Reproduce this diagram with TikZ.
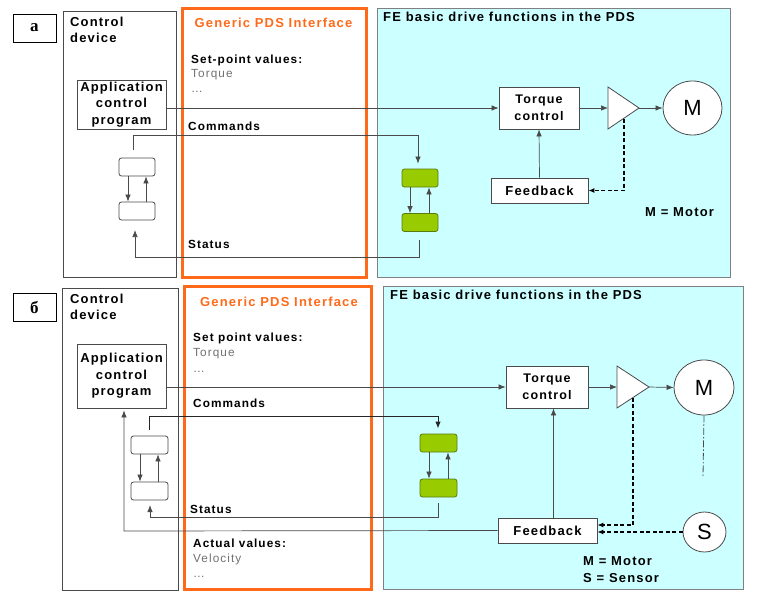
\documentclass[tikz,border=0pt]{standalone}
\usepackage{fontspec}
\setmainfont{Liberation Sans}[LetterSpace=9]
\newfontfamily\cyrserif{Liberation Serif}
\usetikzlibrary{arrows.meta,calc,shapes.geometric}
\definecolor{linec}{HTML}{4A4A4A}
\definecolor{pdsorange}{HTML}{FF6A1A}
\definecolor{fecyan}{HTML}{CCFFFF}
\definecolor{ggreen}{HTML}{99CC00}
\definecolor{gdark}{HTML}{5A7A10}
\definecolor{graytxt}{HTML}{707070}
\begin{document}
\begin{tikzpicture}[x=1pt,y=-1pt,
  lbl/.style={draw=black, line width=0.9pt, fill=white, minimum width=43pt, minimum height=28pt, inner sep=0pt, font=\cyrserif\bfseries\fontsize{17}{17}\selectfont},
  frame/.style={draw=linec, line width=0.8pt, inner sep=0pt},
  pds/.style={draw=pdsorange, line width=3pt, inner sep=0pt},
  fe/.style={draw=linec!70, line width=0.8pt, fill=fecyan, inner sep=0pt},
  blk/.style={draw=linec, line width=0.8pt, fill=white, inner sep=0pt, align=center, font=\bfseries\fontsize{13}{16.5}\selectfont},
  wbox/.style={draw=linec, line width=0.8pt, fill=white, rounded corners=2.5pt, minimum width=36pt, minimum height=18pt, inner sep=0pt},
  gbox/.style={draw=gdark, line width=0.8pt, fill=ggreen, rounded corners=2.5pt, minimum width=36pt, minimum height=18pt, inner sep=0pt},
  circ/.style={draw=linec, line width=0.8pt, fill=white, ellipse, inner sep=0pt, font=\fontsize{22}{22}\selectfont},
  hd/.style={anchor=base west, inner sep=0pt, font=\bfseries\fontsize{13}{15}\selectfont},
  sm/.style={anchor=base west, inner sep=0pt, font=\bfseries\fontsize{11.8}{14}\selectfont},
  gr/.style={anchor=base west, inner sep=0pt, text=graytxt, font=\fontsize{11.8}{14}\selectfont},
  ttl/.style={anchor=base, inner sep=0pt, text=pdsorange, font=\bfseries\fontsize{13}{15}\selectfont},
  arr/.style={draw=linec, line width=0.7pt, -{Latex[length=7pt,width=5.5pt]}},
  darr/.style={draw=black, line width=1.8pt, dash pattern=on 4pt off 2.5pt, -{Latex[length=6pt,width=5pt]}},
]
\useasboundingbox (0,0) rectangle (758,600);
% ================= panel a =================
\node[fe, minimum width=353pt, minimum height=269pt] (fea) at (553.5,142.5) {};
\node[frame, minimum width=113pt, minimum height=266pt] (cda) at (119.5,144) {};
\node[pds, minimum width=184pt, minimum height=269pt] (pdsa) at (274,142.5) {};
\node[lbl] (la) at (34.5,28) {а};

\node[hd] (cdta) at (70,26) {Control};
\node[hd] (cdta2) at (70,42) {device};
\node[ttl] (gpa) at (273.5,27) {Generic PDS Interface};
\node[sm] (spa) at (191,63) {Set-point values:};
\node[gr] (tqa) at (191,77) {Torque};
\node[gr] (dta) at (191,92) {\dots};
\node[sm] (cma) at (188,130) {Commands};
\node[sm] (sta) at (188,248) {Status};
\node[hd] (fta) at (383,21.5) {FE basic drive functions in the PDS};
\node[hd] (mma) at (645,216) {M = Motor};

\node[blk, minimum width=89pt, minimum height=49pt] (appa) at (121.5,104.5) {Application\\control\\program};
\node[blk, minimum width=80pt, minimum height=42pt, font=\bfseries\fontsize{12.5}{16.5}\selectfont] (tca) at (539,108) {Torque\\control};
\node[blk, minimum width=97pt, minimum height=25pt] (fba) at (539.5,190.5) {Feedback};
\node[circ, minimum width=59pt, minimum height=54pt] (Ma) at (692.5,108) {M};
\coordinate (triAin) at (608,108);
\coordinate (triAout) at (639,108);
\coordinate (triAbot) at (624,118.5);
\draw[linec, line width=0.8pt, fill=white] (608,87) -- (639,108) -- (608,129) -- cycle;

\node[wbox] (wa1) at (137,167) {};
\node[wbox] (wa2) at (137,211) {};
\node[gbox] (ga1) at (420,178) {};
\node[gbox] (ga2) at (420,222.5) {};

\draw[arr] (appa.east |- tca.west) -- (tca.west);
\draw[arr] (tca.east) -- (triAin);
\draw[arr] (triAout) -- (Ma.west);
\draw[arr] (fba.north) -- (tca.south);
\draw[darr] (triAbot) |- (fba.east);

\draw[arr] ([xshift=-9pt]wa1.south) -- ([xshift=-9pt]wa2.north);
\draw[arr] ([xshift=9pt]wa2.north) -- ([xshift=9pt]wa1.south);
\draw[arr] ([xshift=-10pt]ga1.south) -- ([xshift=-10pt]ga2.north);
\draw[arr] ([xshift=9pt]ga2.north) -- ([xshift=9pt]ga1.south);

\coordinate (cmA0) at (133,150);
\coordinate (cmA1) at (418,135);
\draw[arr, shorten >=5pt] (cmA0) |- (cmA1) -- (cmA1 |- ga1.north);
\coordinate (stA0) at (419,240);
\coordinate (stA1) at (135,257);
\coordinate (stA2) at (135,230);
\draw[arr] (stA0) |- (stA1) -- (stA2);

% ================= panel b =================
\node[fe, minimum width=360pt, minimum height=303pt] (feb) at (563,437.5) {};
\node[frame, minimum width=116pt, minimum height=302pt] (cdb) at (120,439) {};
\node[pds, minimum width=187pt, minimum height=303pt] (pdsb) at (277.5,437.5) {};
\node[lbl] (lb) at (34.5,307) {б};

\node[hd] (cdtb) at (70,303) {Control};
\node[hd] (cdtb2) at (70,319) {device};
\node[ttl] (gpb) at (279,306) {Generic PDS Interface};
\node[sm] (spb) at (193,341.5) {Set point values:};
\node[gr] (tqb) at (193,356) {Torque};
\node[gr] (dtb) at (193,372) {\dots};
\node[sm] (cmb) at (193,407) {Commands};
\node[sm] (stb) at (190,513) {Status};
\node[sm] (avb) at (193,547) {Actual values:};
\node[gr] (vlb) at (193,562) {Velocity};
\node[gr] (dvb) at (193,577) {\dots};
\node[hd] (ftb) at (390,299) {FE basic drive functions in the PDS};
\node[hd] (mmb) at (583,565) {M = Motor};
\node[hd] (ssb) at (583,582) {S = Sensor};

\node[blk, minimum width=89pt, minimum height=64pt] (appb) at (121.5,376) {Application\\control\\program};
\node[blk, minimum width=82pt, minimum height=42pt, font=\bfseries\fontsize{12.5}{16.5}\selectfont] (tcb) at (547,387) {Torque\\control};
\node[blk, minimum width=99pt, minimum height=25pt] (fbb) at (547.5,530.5) {Feedback};
\node[circ, minimum width=60pt, minimum height=55pt] (Mb) at (704,387.5) {M};
\node[circ, minimum width=43pt, minimum height=40pt] (Sb) at (704.5,532) {S};
\coordinate (triBin) at (617,387);
\coordinate (triBout) at (649,387);
\coordinate (triBbot) at (633,397.5);
\draw[linec, line width=0.8pt, fill=white] (617,366) -- (649,387) -- (617,408) -- cycle;

\node[wbox, minimum width=37pt] (wb1) at (149.5,445) {};
\node[wbox, minimum width=37pt] (wb2) at (149.5,491) {};
\node[gbox, minimum width=37pt] (gb1) at (438.5,443) {};
\node[gbox, minimum width=37pt] (gb2) at (438.5,488) {};

\draw[arr] (appb.east |- tcb.west) -- (tcb.west);
\draw[arr] (tcb.east) -- (triBin);
\draw[arr] (triBout) -- (Mb.west);
\draw[arr] ([xshift=6pt]fbb.north) -- ([xshift=6pt]fbb.north |- tcb.south);
\draw[darr] (triBbot) |- ([yshift=5.5pt]fbb.east);
\draw[darr] (Sb.west) -- (Sb.west -| fbb.east);
\coordinate (mshaft) at (703,477);
\draw[linec, line width=0.8pt, dash pattern=on 7pt off 2pt on 1.5pt off 2pt] (Mb.south) -- (mshaft);

\draw[arr] ([xshift=-9.5pt]wb1.south) -- ([xshift=-9.5pt]wb2.north);
\draw[arr] ([xshift=8.5pt]wb2.north) -- ([xshift=8.5pt]wb1.south);
\draw[arr] ([xshift=-9.5pt]gb1.south) -- ([xshift=-9.5pt]gb2.north);
\draw[arr] ([xshift=9.5pt]gb2.north) -- ([xshift=9.5pt]gb1.south);

\coordinate (cmB0) at (149,430);
\coordinate (cmB1) at (438,416);
\draw[arr, line width=1pt, draw=black!85, shorten >=5pt] (cmB0) |- (cmB1) -- (cmB1 |- gb1.north);
\coordinate (stB0) at (438,503);
\coordinate (stB1) at (150,517);
\coordinate (stB2) at (150,505);
\draw[arr, line width=0.85pt] (stB0) |- (stB1) -- (stB2);
\coordinate (avB1) at (124,531);
\draw[arr] (fbb.west) -- (avB1) -- ([yshift=-2pt]appb.south -| avB1);
\end{tikzpicture}
\end{document}
